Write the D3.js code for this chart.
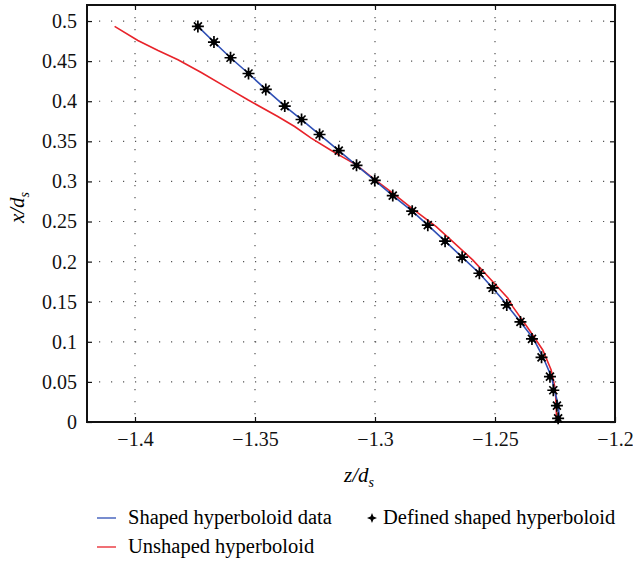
<!DOCTYPE html>
<html>
<head>
<meta charset="utf-8">
<script src="https://cdn.jsdelivr.net/npm/d3@7"></script>
<style>
  body { margin: 0; background: #fff; }
</style>
</head>
<body>
<div id="my_dataviz"></div>
<script>
// data
var xTicks = [-1.4, -1.35, -1.3, -1.25, -1.2];
var yTicks = [0, 0.05, 0.1, 0.15, 0.2, 0.25, 0.3, 0.35, 0.4, 0.45, 0.5];

// defined shaped hyperboloid (markers)
var markerZ = [-1.3738, -1.3671, -1.3602, -1.3527, -1.3455, -1.3376, -1.3306, -1.3231, -1.3151, -1.3077,
               -1.3001, -1.2926, -1.2845, -1.2780, -1.2708, -1.2637, -1.2565, -1.2510, -1.2451, -1.2394,
               -1.2346, -1.2306, -1.2271, -1.2257, -1.2242, -1.2237];
var markerX = [0.4933, 0.4738, 0.4542, 0.4346, 0.4147, 0.3939, 0.3772, 0.3585, 0.3385, 0.3201,
               0.3013, 0.2824, 0.2629, 0.2454, 0.2255, 0.2055, 0.1855, 0.1672, 0.1460, 0.1248,
               0.1036, 0.0807, 0.0565, 0.0396, 0.0203, 0.0046];

// shaped hyperboloid data (blue line)
var blueZ = [-1.3738, -1.3671, -1.3602, -1.3527, -1.3455, -1.3376, -1.3306, -1.3231, -1.3151, -1.3077,
             -1.3001, -1.2926, -1.2845, -1.2780, -1.2708, -1.2637, -1.2565, -1.2510, -1.2472, -1.2451,
             -1.2394, -1.2340, -1.2300, -1.2265, -1.2252, -1.2236, -1.2232];
var blueX = [0.4933, 0.4738, 0.4542, 0.4346, 0.4147, 0.3939, 0.3772, 0.3585, 0.3385, 0.3201,
             0.3013, 0.2824, 0.2629, 0.2454, 0.2255, 0.2055, 0.1855, 0.1672, 0.1540, 0.1460,
             0.1248, 0.1040, 0.0810, 0.0565, 0.0396, 0.0203, 0.0046];

// unshaped hyperboloid (red line)
var redZ = [-1.4085, -1.3988, -1.3904, -1.3821, -1.3724, -1.3613, -1.3530, -1.3405, -1.3335, -1.3266,
            -1.3182, -1.3127, -1.3078, -1.3009, -1.2926, -1.2842, -1.2745, -1.2676, -1.2593, -1.2510,
            -1.2446, -1.2426, -1.2357, -1.2301, -1.2266, -1.2248, -1.2243];
var redX = [0.4933, 0.4758, 0.4633, 0.4517, 0.4358, 0.4164, 0.4018, 0.3810, 0.3685, 0.3540,
            0.3385, 0.3290, 0.3207, 0.3041, 0.2854, 0.2654, 0.2437, 0.2250, 0.2021, 0.1751,
            0.1544, 0.1439, 0.1148, 0.0898, 0.0649, 0.0399, 0.0020];

var legendNames = ["Shaped hyperboloid data", "Unshaped hyperboloid", "Defined shaped hyperboloid"];

var serif = "'Liberation Serif', 'Times New Roman', serif";

// set the dimensions and margins of the graph
var margin = {top: 5, right: 18, bottom: 140, left: 87},
    width = 633 - margin.left - margin.right,
    height = 562 - margin.top - margin.bottom;

var svg = d3.select("#my_dataviz")
  .append("svg")
    .attr("width", 633)
    .attr("height", 562)
  .append("g")
    .attr("transform", "translate(" + margin.left + "," + margin.top + ")");

var x = d3.scaleLinear().domain([-1.42, -1.2]).range([0, width]);
var y = d3.scaleLinear().domain([0, 0.52]).range([height, 0]);

// dotted grid
svg.append("g").selectAll("line.gx")
  .data(xTicks)
  .enter().append("line")
    .attr("x1", function(d) { return x(d); })
    .attr("x2", function(d) { return x(d); })
    .attr("y1", 0).attr("y2", height)
    .attr("stroke", "#555")
    .attr("stroke-width", 1.2)
    .attr("stroke-dasharray", "1.2,10.8");
svg.append("g").selectAll("line.gy")
  .data(yTicks)
  .enter().append("line")
    .attr("y1", function(d) { return y(d); })
    .attr("y2", function(d) { return y(d); })
    .attr("x1", 0).attr("x2", width)
    .attr("stroke", "#555")
    .attr("stroke-width", 1.2)
    .attr("stroke-dasharray", "1.2,10.8");

// axes, ticks inward on all four sides
var fmt = d3.format("~g");
svg.append("g")
  .attr("transform", "translate(0," + height + ")")
  .call(d3.axisBottom(x).tickValues(xTicks).tickSize(-5).tickPadding(10).tickFormat(fmt));
svg.append("g")
  .call(d3.axisLeft(y).tickValues(yTicks).tickSize(-5).tickPadding(10).tickFormat(fmt));
svg.append("g")
  .call(d3.axisTop(x).tickValues(xTicks).tickSize(-5).tickFormat(""));
svg.append("g")
  .attr("transform", "translate(" + width + ",0)")
  .call(d3.axisRight(y).tickValues(yTicks).tickSize(-5).tickFormat(""));

svg.selectAll(".domain").remove();
svg.selectAll(".tick line").attr("stroke", "#111").attr("stroke-width", 1.2);
svg.selectAll(".tick text")
  .style("font-family", serif)
  .style("font-size", "20px")
  .attr("fill", "#111");

// frame
svg.append("rect")
  .attr("width", width).attr("height", height)
  .attr("fill", "none").attr("stroke", "#111").attr("stroke-width", 2);

// lines
var line = d3.line()
  .x(function(d) { return x(d[0]); })
  .y(function(d) { return y(d[1]); });

svg.append("path")
  .datum(redZ.map(function(d, i) { return [d, redX[i]]; }))
  .attr("d", line)
  .attr("fill", "none").attr("stroke", "#e8232a").attr("stroke-width", 1.6);

svg.append("path")
  .datum(blueZ.map(function(d, i) { return [d, blueX[i]]; }))
  .attr("d", line)
  .attr("fill", "none").attr("stroke", "#2f4fb5").attr("stroke-width", 1.6);

// markers
var star = "M-6,0H6M0,-6V6M-4,-4L4,4M-4,4L4,-4";
var mk = svg.append("g").selectAll("g.mk")
  .data(markerZ.map(function(d, i) { return [d, markerX[i]]; }))
  .enter().append("g")
    .attr("transform", function(d) { return "translate(" + x(d[0]) + "," + y(d[1]) + ")"; });
mk.append("path").attr("d", star).attr("stroke", "#000").attr("stroke-width", 1.7);
mk.append("circle").attr("r", 2.8).attr("fill", "#000");

// axis titles
var xt = svg.append("text")
  .attr("x", width / 2 + 8).attr("y", height + 60)
  .attr("text-anchor", "middle")
  .style("font-family", serif)
  .style("font-size", "21px").style("font-style", "italic");
xt.append("tspan").text("z/d");
xt.append("tspan").attr("dy", 5).style("font-size", "14px").text("s");

var yt = svg.append("text")
  .attr("transform", "translate(-63," + (height / 2 - 6) + ")rotate(-90)")
  .attr("text-anchor", "middle")
  .style("font-family", serif)
  .style("font-size", "21px").style("font-style", "italic");
yt.append("tspan").text("x/d");
yt.append("tspan").attr("dy", 5).style("font-size", "14px").text("s");

// legend
var leg = svg.append("g")
  .attr("transform", "translate(" + (-margin.left) + "," + (-margin.top) + ")")
  .style("font-family", serif);
leg.append("line").attr("x1", 97).attr("x2", 116).attr("y1", 518).attr("y2", 518)
  .attr("stroke", "#2f4fb5").attr("stroke-width", 1.3);
leg.append("text").attr("x", 128).attr("y", 524).style("font-size", "20.5px").text(legendNames[0]);
leg.append("line").attr("x1", 97).attr("x2", 116).attr("y1", 547).attr("y2", 547)
  .attr("stroke", "#e8232a").attr("stroke-width", 1.3);
leg.append("text").attr("x", 128).attr("y", 553).style("font-size", "20.5px").text(legendNames[1]);
leg.append("path")
  .attr("transform", "translate(372,518)")
  .attr("d", "M0,-5L1.4,-1.4L5,0L1.4,1.4L0,5L-1.4,1.4L-5,0L-1.4,-1.4Z")
  .attr("fill", "#000");
leg.append("text").attr("x", 383).attr("y", 524).style("font-size", "20.5px").text(legendNames[2]);
</script>
</body>
</html>
